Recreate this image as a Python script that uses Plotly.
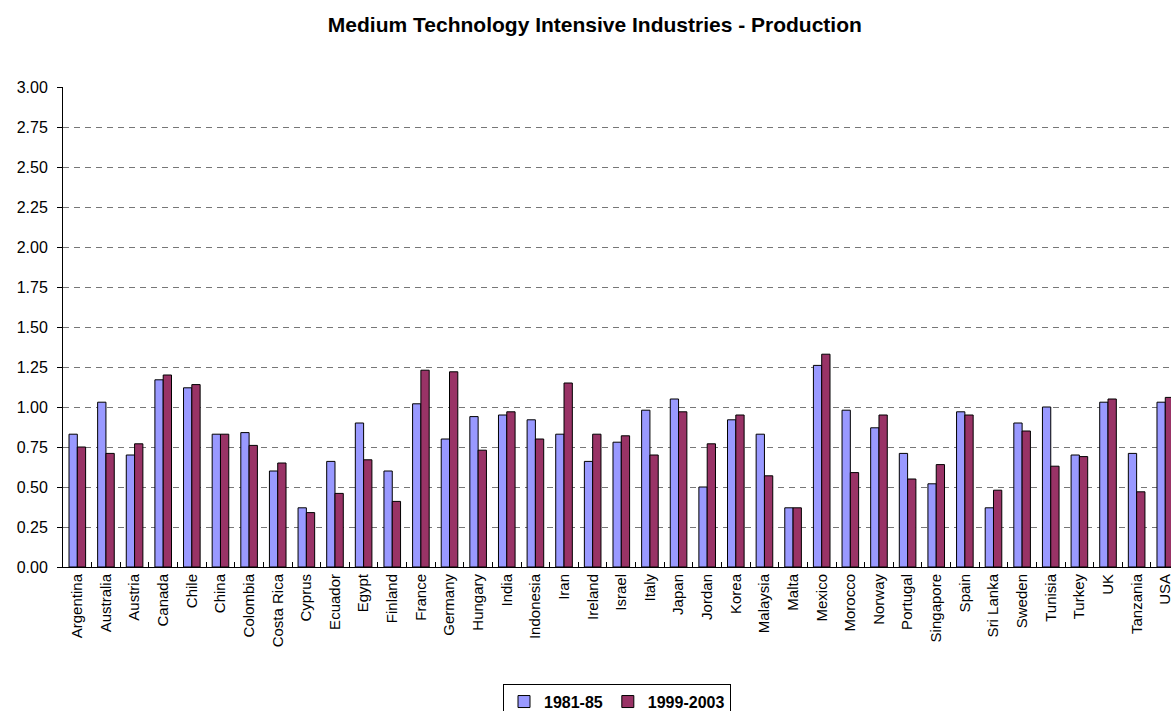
import plotly.graph_objects as go

countries = ["Argentina", "Australia", "Austria", "Canada", "Chile", "China", "Colombia",
             "Costa Rica", "Cyprus", "Ecuador", "Egypt", "Finland", "France", "Germany",
             "Hungary", "India", "Indonesia", "Iran", "Ireland", "Israel", "Italy", "Japan",
             "Jordan", "Korea", "Malaysia", "Malta", "Mexico", "Morocco", "Norway", "Portugal",
             "Singapore", "Spain", "Sri Lanka", "Sweden", "Tunisia", "Turkey", "UK",
             "Tanzania", "USA"]

p1981_85 = [0.83, 1.03, 0.70, 1.17, 1.12, 0.83, 0.84, 0.60, 0.37, 0.66,
            0.90, 0.60, 1.02, 0.80, 0.94, 0.95, 0.92, 0.83, 0.66, 0.78,
            0.98, 1.05, 0.50, 0.92, 0.83, 0.37, 1.26, 0.98, 0.87, 0.71,
            0.52, 0.97, 0.37, 0.90, 1.00, 0.70, 1.03, 0.71, 1.03]

p1999_2003 = [0.75, 0.71, 0.77, 1.20, 1.14, 0.83, 0.76, 0.65, 0.34, 0.46,
              0.67, 0.41, 1.23, 1.22, 0.73, 0.97, 0.80, 1.15, 0.83, 0.82,
              0.70, 0.97, 0.77, 0.95, 0.57, 0.37, 1.33, 0.59, 0.95, 0.55,
              0.64, 0.95, 0.48, 0.85, 0.63, 0.69, 1.05, 0.47, 1.06]

y_ticks = [0, 0.25, 0.5, 0.75, 1.0, 1.25, 1.5, 1.75, 2.0, 2.25, 2.5, 2.75, 3.0]

FONT = "Liberation Sans, Arial, sans-serif"

fig = go.Figure()
fig.add_trace(go.Bar(x=countries, y=p1981_85, name="1981-85",
                     marker=dict(color="#9999FF", line=dict(color="black", width=1))))
fig.add_trace(go.Bar(x=countries, y=p1999_2003, name="1999-2003",
                     marker=dict(color="#993366", line=dict(color="black", width=1))))

fig.update_layout(
    width=1171, height=711,
    paper_bgcolor="white", plot_bgcolor="white",
    margin=dict(l=63, r=0, t=87, b=144, autoexpand=False),
    barmode="group", bargap=0.42, bargroupgap=0.0,
    font=dict(family=FONT, size=15, color="black"),
    title=dict(text="<b>Medium Technology Intensive Industries - Production</b>",
               x=0.508, xref="container", xanchor="center",
               y=0.966, yref="container", yanchor="middle",
               font=dict(family=FONT, size=21, color="black")),
    showlegend=True,
    legend=dict(orientation="h", x=0.5, xref="paper", xanchor="center",
                y=-0.243, yanchor="top",
                bordercolor="black", borderwidth=1,
                font=dict(family=FONT, size=16, color="black", weight="bold"),
                itemwidth=30, tracegroupgap=0),
)

fig.update_xaxes(
    range=[-0.5, 38.2],
    showline=True, linecolor="black", linewidth=1,
    ticks="inside", tickson="boundaries", ticklen=5, tickcolor="black",
    tickangle=-90, tickfont=dict(family=FONT, size=15),
    showgrid=False, fixedrange=True,
)
fig.update_yaxes(
    range=[0, 3.0], tickvals=y_ticks, tickformat=".2f",
    showline=True, linecolor="black", linewidth=1,
    ticks="outside", ticklen=5, tickcolor="black", ticklabelstandoff=6,
    tickfont=dict(family=FONT, size=16),
    showgrid=True, gridcolor="#777777", gridwidth=1, griddash="6px,5px",
    zeroline=False,
)

fig.write_html("out.html")
